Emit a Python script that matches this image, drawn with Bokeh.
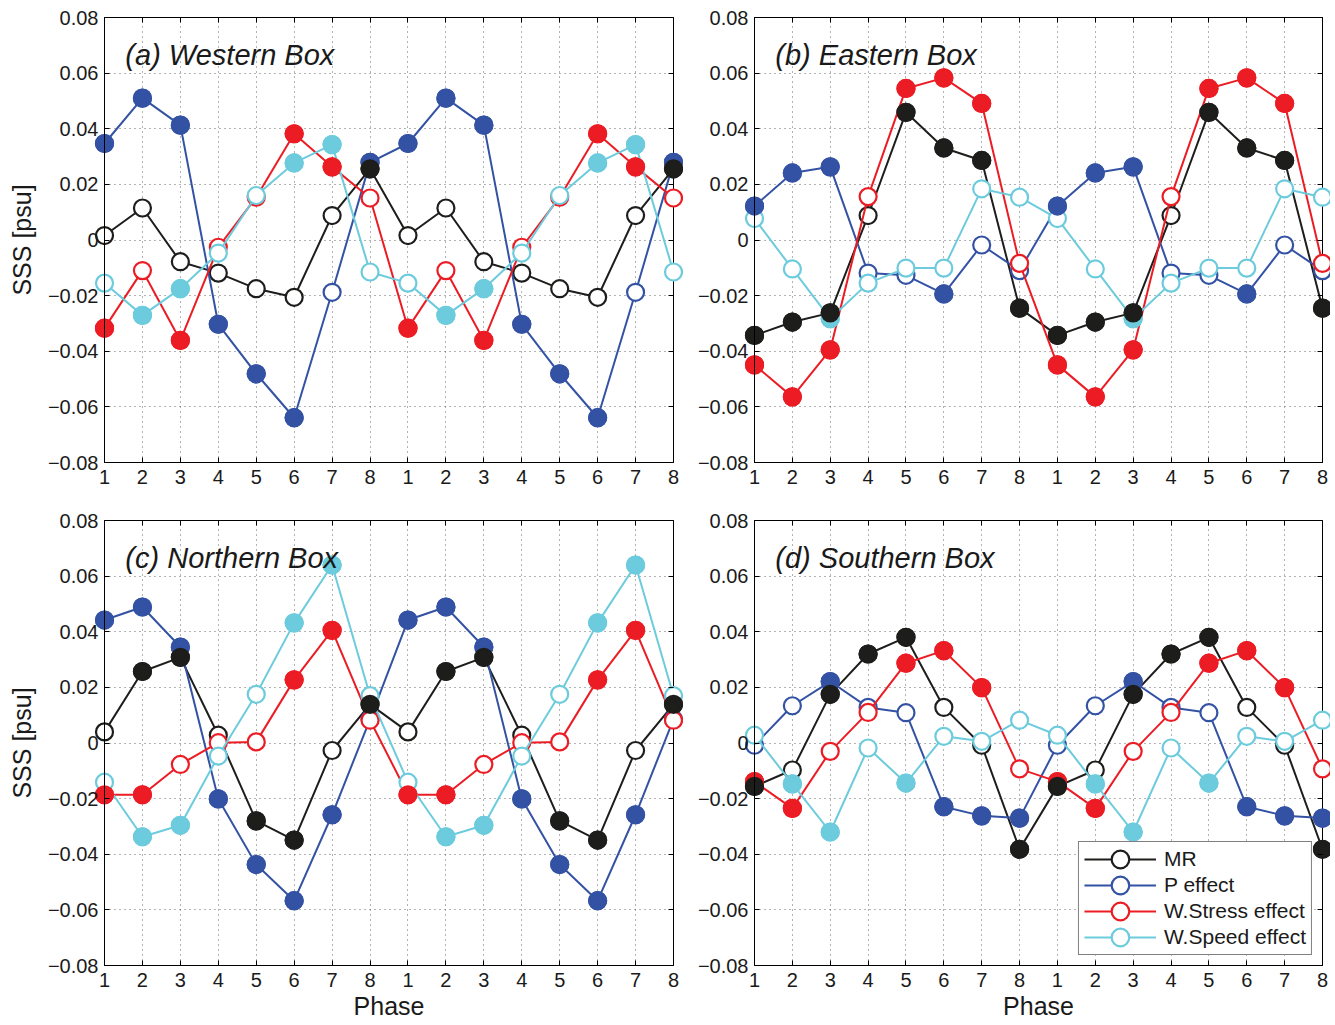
from bokeh.plotting import figure
from bokeh.layouts import row, column
from bokeh.models import (FixedTicker, LinearAxis, Legend, LegendItem, Label,
                          ColumnDataSource, Range1d, CustomJSTickFormatter)
from bokeh.embed import file_html
from bokeh.resources import INLINE

# ---------------- data ----------------
phase_cycle = [1, 2, 3, 4, 5, 6, 7, 8]
xpos = list(range(1, 17))
xtick_labels = [str(v) for v in phase_cycle] * 2
ytick_vals = [-0.08, -0.06, -0.04, -0.02, 0.0, 0.02, 0.04, 0.06, 0.08]
ytick_labels = ["\u22120.08", "\u22120.06", "\u22120.04", "\u22120.02", "0",
                "0.02", "0.04", "0.06", "0.08"]

series_names = ["MR", "P effect", "W.Stress effect", "W.Speed effect"]
series_colors = ["#1d1d1b", "#3452a4", "#ec1c24", "#6ccbdc"]

# (a) Western Box
a_mr = [0.0016, 0.0115, -0.0078, -0.0119, -0.0175, -0.0206, 0.0088, 0.0256]
a_mr_sig = [0, 0, 0, 0, 0, 0, 0, 1]
a_p = [0.0347, 0.0510, 0.0413, -0.0303, -0.0481, -0.0639, -0.0188, 0.0279]
a_p_sig = [1, 1, 1, 1, 1, 1, 0, 1]
a_ws = [-0.0317, -0.0110, -0.0361, -0.0026, 0.0154, 0.0382, 0.0263, 0.0151]
a_ws_sig = [1, 0, 1, 0, 0, 1, 1, 0]
a_wp = [-0.0155, -0.0271, -0.0175, -0.0047, 0.0160, 0.0277, 0.0343, -0.0115]
a_wp_sig = [0, 1, 1, 0, 0, 1, 1, 0]

# (b) Eastern Box
b_mr = [-0.0343, -0.0295, -0.0262, 0.0088, 0.0459, 0.0331, 0.0286, -0.0245]
b_mr_sig = [1, 1, 1, 0, 1, 1, 1, 1]
b_p = [0.0122, 0.0241, 0.0263, -0.0119, -0.0127, -0.0194, -0.0018, -0.0110]
b_p_sig = [1, 1, 1, 0, 0, 1, 0, 0]
b_ws = [-0.0449, -0.0564, -0.0395, 0.0156, 0.0545, 0.0583, 0.0491, -0.0084]
b_ws_sig = [1, 1, 1, 0, 1, 1, 1, 0]
b_wp = [0.0077, -0.0104, -0.0283, -0.0155, -0.0101, -0.0101, 0.0184, 0.0154]
b_wp_sig = [0, 0, 1, 0, 0, 0, 0, 0]

# (c) Northern Box
c_mr = [0.0040, 0.0257, 0.0308, 0.0028, -0.0280, -0.0349, -0.0027, 0.0139]
c_mr_sig = [0, 1, 1, 0, 1, 1, 0, 1]
c_p = [0.0442, 0.0489, 0.0345, -0.0201, -0.0437, -0.0567, -0.0258, 0.0085]
c_p_sig = [1, 1, 1, 1, 1, 1, 1, 0]
c_ws = [-0.0186, -0.0186, -0.0077, 0.0001, 0.0004, 0.0227, 0.0405, 0.0082]
c_ws_sig = [1, 1, 0, 0, 0, 1, 1, 0]
c_wp = [-0.0141, -0.0337, -0.0296, -0.0047, 0.0175, 0.0432, 0.0640, 0.0170]
c_wp_sig = [0, 1, 1, 0, 0, 1, 1, 0]

# (d) Southern Box
d_mr = [-0.0156, -0.0097, 0.0175, 0.0320, 0.0380, 0.0128, -0.0008, -0.0382]
d_mr_sig = [1, 0, 1, 1, 1, 0, 0, 1]
d_p = [-0.0008, 0.0134, 0.0221, 0.0128, 0.0109, -0.0229, -0.0262, -0.0270]
d_p_sig = [0, 0, 1, 0, 0, 1, 1, 1]
d_ws = [-0.0139, -0.0235, -0.0030, 0.0110, 0.0287, 0.0332, 0.0199, -0.0093]
d_ws_sig = [1, 1, 0, 0, 1, 1, 1, 0]
d_wp = [0.0028, -0.0147, -0.0320, -0.0018, -0.0144, 0.0024, 0.0006, 0.0082]
d_wp_sig = [0, 1, 1, 0, 1, 0, 0, 0]

panels = [
    ("(a) Western Box", [a_mr, a_p, a_ws, a_wp], [a_mr_sig, a_p_sig, a_ws_sig, a_wp_sig]),
    ("(b) Eastern Box", [b_mr, b_p, b_ws, b_wp], [b_mr_sig, b_p_sig, b_ws_sig, b_wp_sig]),
    ("(c) Northern Box", [c_mr, c_p, c_ws, c_wp], [c_mr_sig, c_p_sig, c_ws_sig, c_wp_sig]),
    ("(d) Southern Box", [d_mr, d_p, d_ws, d_wp], [d_mr_sig, d_p_sig, d_ws_sig, d_wp_sig]),
]

FONT = "Liberation Sans"
TXT = "#1a1a1a"
MSIZE = 17


def make_panel(title, vals, sigs, width, height, bl, br, bt, bb,
               ylabel=False, xlabel=False, legend=False):
    p = figure(width=width, height=height, output_backend="svg",
               toolbar_location=None,
               x_range=Range1d(1, 16), y_range=Range1d(-0.08, 0.08),
               min_border_left=bl, min_border_right=br,
               min_border_top=bt, min_border_bottom=bb,
               background_fill_color="white", border_fill_color="white")
    p.outline_line_color = "black"
    p.outline_line_width = 1

    # axes
    xt = FixedTicker(ticks=xpos)
    yt = FixedTicker(ticks=ytick_vals)
    p.xaxis.ticker = xt
    p.yaxis.ticker = yt
    p.xaxis.major_label_overrides = {x: l for x, l in zip(xpos, xtick_labels)}
    p.yaxis.major_label_overrides = {v: l for v, l in zip(ytick_vals, ytick_labels)}
    for ax in (p.xaxis[0], p.yaxis[0]):
        ax.major_tick_in = 5
        ax.major_tick_out = 0
        ax.minor_tick_line_color = None
        ax.axis_line_color = "black"
        ax.major_tick_line_color = "black"
        ax.major_label_text_font = FONT
        ax.major_label_text_font_size = "20px"
        ax.major_label_text_color = TXT
        ax.axis_label_text_font = FONT
        ax.axis_label_text_font_size = "25px"
        ax.axis_label_text_font_style = "normal"
        ax.axis_label_text_color = TXT
    p.xaxis.major_label_standoff = 7
    p.yaxis.major_label_standoff = 6
    if ylabel:
        p.yaxis.axis_label = "SSS [psu]"
        p.yaxis.axis_label_standoff = 9
    if xlabel:
        p.xaxis.axis_label = "Phase"
        p.xaxis.axis_label_standoff = 2

    # mirrored ticks on top and right (no labels)
    blank = CustomJSTickFormatter(code="return ''")
    top = LinearAxis(ticker=xt, formatter=blank, major_tick_in=5, major_tick_out=0,
                     major_label_standoff=0,
                     minor_tick_line_color=None, axis_line_color=None)
    right = LinearAxis(ticker=yt, formatter=blank, major_tick_in=5, major_tick_out=0,
                       major_label_standoff=0,
                       minor_tick_line_color=None, axis_line_color=None)
    p.add_layout(top, "above")
    p.add_layout(right, "right")

    # grid
    p.xgrid.ticker = xt
    p.ygrid.ticker = yt
    for g in (p.xgrid[0], p.ygrid[0]):
        g.grid_line_color = "#333333"
        g.grid_line_alpha = 0.75
        g.grid_line_dash = "1 4"
        g.grid_line_width = 1

    items = []
    # layer 1: lines and open (white-filled) markers, MR first
    for name, color, v in zip(series_names, series_colors, vals):
        src = ColumnDataSource(dict(x=xpos, y=v + v))
        lr = p.line("x", "y", source=src, line_color=color, line_width=2, level="guide")
        orr = p.ellipse("x", "y", source=src, width=MSIZE, height=MSIZE,
                        width_units="screen", height_units="screen",
                        line_color=color, line_width=2.2, fill_color="white",
                        level="guide")
        items.append(LegendItem(label=name, renderers=[lr, orr]))
    # layer 2: filled markers for significant points, MR last
    order = [1, 2, 3, 0]
    for i in order:
        v = vals[i]
        s = sigs[i]
        xs = [x for x, f in zip(xpos, s + s) if f]
        ys = [y for y, f in zip(v + v, s + s) if f]
        src = ColumnDataSource(dict(x=xs, y=ys))
        p.ellipse("x", "y", source=src, width=MSIZE, height=MSIZE,
                  width_units="screen", height_units="screen",
                  line_color=series_colors[i], line_width=2.2,
                  fill_color=series_colors[i], level="guide")

    p.add_layout(Label(x=1.55, y=0.0665, text=title, text_font=FONT,
                       text_font_style="italic", text_font_size="29px",
                       text_color=TXT, text_baseline="alphabetic"))

    if legend:
        lg = Legend(items=items, location="bottom_right",
                    border_line_color="black", border_line_width=1,
                    background_fill_color="white", background_fill_alpha=1,
                    label_text_font=FONT, label_text_font_size="21px",
                    label_text_color=TXT,
                    glyph_width=72, glyph_height=22, label_height=22,
                    spacing=2, padding=5, margin=10, label_standoff=8)
        p.add_layout(lg)
    return p


pa = make_panel(panels[0][0], panels[0][1], panels[0][2], 683, 502, 104, 10, 17, 40,
                ylabel=True)
pb = make_panel(panels[1][0], panels[1][1], panels[1][2], 647, 502, 71, 8, 17, 40)
pc = make_panel(panels[2][0], panels[2][1], panels[2][2], 683, 521, 104, 10, 18, 58,
                ylabel=True, xlabel=True)
pd = make_panel(panels[3][0], panels[3][1], panels[3][2], 647, 521, 71, 8, 18, 58,
                xlabel=True, legend=True)

layout = column(row(pa, pb), row(pc, pd))

open("out.html", "w").write(file_html(layout, INLINE))
